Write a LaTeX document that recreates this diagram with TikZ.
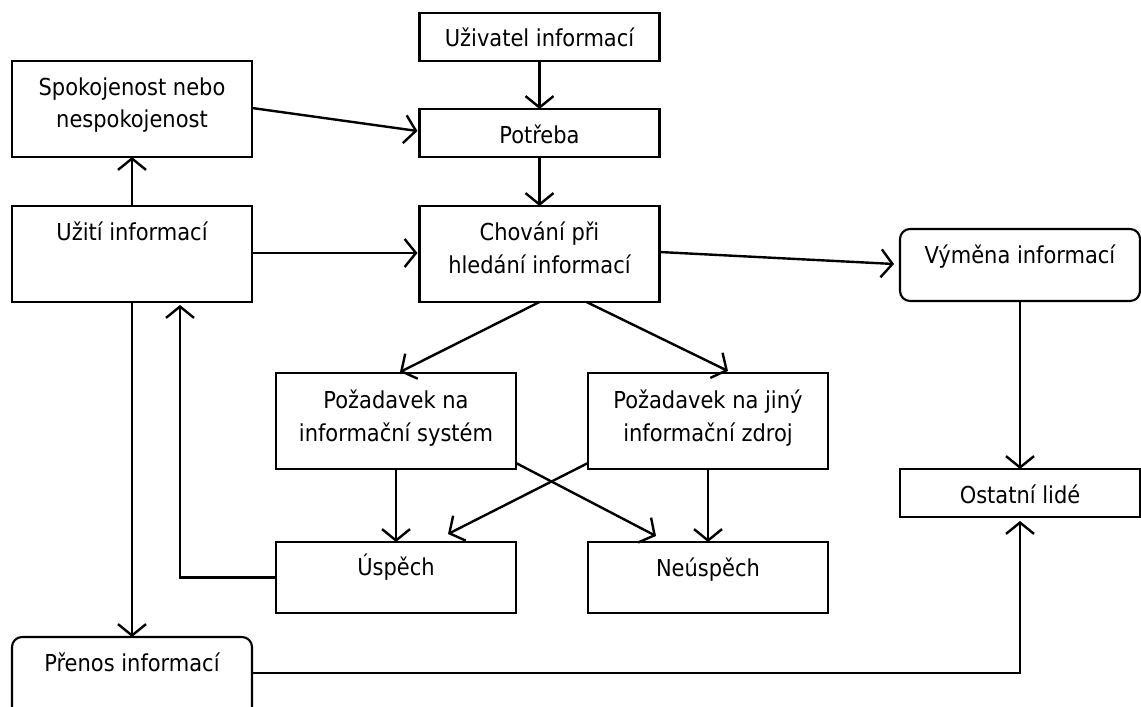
\documentclass[tikz,border=0pt]{standalone}
\usepackage{fontspec}
\setmainfont{DejaVu Sans Condensed}
\usetikzlibrary{arrows.meta,calc}

\begin{document}
\begin{tikzpicture}[x=0.75pt,y=-0.75pt,
  box/.style={draw, line width=1.6pt, minimum width=180pt, inner sep=0pt, outer sep=0pt},
  rbox/.style={box, rounded corners=7.5pt},
  lbl/.style={anchor=base, inner sep=0pt, font=\fontsize{17.5pt}{20pt}\selectfont},
  arr/.style={line width=1.8pt, -{Straight Barb[length=8.5pt,width=21pt]}},
  ln/.style={line width=1.8pt}]

\useasboundingbox (0,0) rectangle (1141,706);
\clip (0,0) rectangle (1141,706);

% boxes
\node[box, minimum height=36pt]    (uziv)  at (539.5,37)  {};
\node[box, minimum height=72pt]    (spok)  at (132,109)   {};
\node[box, minimum height=36pt]    (potr)  at (539.5,133) {};
\node[box, minimum height=72pt]    (uziti) at (132,254)   {};
\node[box, minimum height=72pt]    (chov)  at (539.5,254) {};
\node[rbox, minimum height=54pt]   (vym)   at (1020,265)  {};
\node[box, minimum height=72pt]    (pozis) at (396,421)   {};
\node[box, minimum height=72pt]    (pozj)  at (708,421)   {};
\node[box, minimum height=36pt]    (ostat) at (1020,493)  {};
\node[box, minimum height=53.25pt] (usp)   at (396,577.5) {};
\node[box, minimum height=53.25pt] (neusp) at (708,577.5) {};
\node[rbox, minimum height=72pt]   (pren)  at (132,685)   {};

% texts, set near the top of each box
\node[lbl] (t-uziv)  at ($(uziv.north)+(0,34)$)  {Uživatel informací};
\node[lbl] (t-spok1) at ($(spok.north)+(0,35)$)  {Spokojenost nebo};
\node[lbl] (t-spok2) at ($(spok.north)+(0,67)$)  {nespokojenost};
\node[lbl] (t-potr)  at ($(potr.north)+(0,34)$)  {Potřeba};
\node[lbl] (t-uziti) at ($(uziti.north)+(0,34)$) {Užití informací};
\node[lbl] (t-chov1) at ($(chov.north)+(0,34)$)  {Chování při};
\node[lbl] (t-chov2) at ($(chov.north)+(0,67)$)  {hledání informací};
\node[lbl] (t-vym)   at ($(vym.north)+(0,34)$)   {Výměna informací};
\node[lbl] (t-pozis1) at ($(pozis.north)+(0,35)$) {Požadavek na};
\node[lbl] (t-pozis2) at ($(pozis.north)+(0,68)$) {informační systém};
\node[lbl] (t-pozj1) at ($(pozj.north)+(0,35)$)  {Požadavek na jiný};
\node[lbl] (t-pozj2) at ($(pozj.north)+(0,68)$)  {informační zdroj};
\node[lbl] (t-ostat) at ($(ostat.north)+(0,34)$) {Ostatní lidé};
\node[lbl] (t-usp)   at ($(usp.north)+(0,33)$)   {Úspěch};
\node[lbl] (t-neusp) at ($(neusp.north)+(0,34)$) {Neúspěch};
\node[lbl] (t-pren)  at ($(pren.north)+(0,34)$)  {Přenos informací};

% connectors
\draw[arr] (uziv.south) -- (potr.north);
\draw[arr] ($(spok.east)+(0,-1)$) -- ($(potr.west)+(-2,-2)$);
\draw[arr] (potr.south) -- (chov.north);
\draw[arr] (uziti.north) -- (spok.south);
\draw[arr] ($(uziti.east)+(0,-1)$) -- ($(chov.west)+(-2,-1)$);
\draw[arr] ($(chov.east)+(0,-2)$) -- ($(vym.west)+(-6,-1)$);
\draw[arr] (chov.south) -- ($(pozis.north)+(4,-1)$);
\draw[arr] ($(chov.south)+(47,0)$) -- ($(pozj.north)+(20,-2)$);
\draw[arr] (vym.south) -- (ostat.north);
\draw[arr] (pozis.south) -- (usp.north);
\draw[arr] (pozj.south) -- (neusp.north);
\draw[arr] ($(pozis.south east)+(0,-6)$) -- ($(neusp.north)+(-52,-6)$);
\draw[arr] ($(pozj.south west)+(0,-6)$) -- ($(usp.north)+(52,-8)$);
\draw[arr] (usp.west) -| ($(uziti.south)+(48,3)$);
\draw[arr] (uziti.south) -- (pren.north);
\draw[arr] ($(pren.north east)+(0,36)$) -| ($(ostat.south)+(0,4)$);

\end{tikzpicture}
\end{document}
